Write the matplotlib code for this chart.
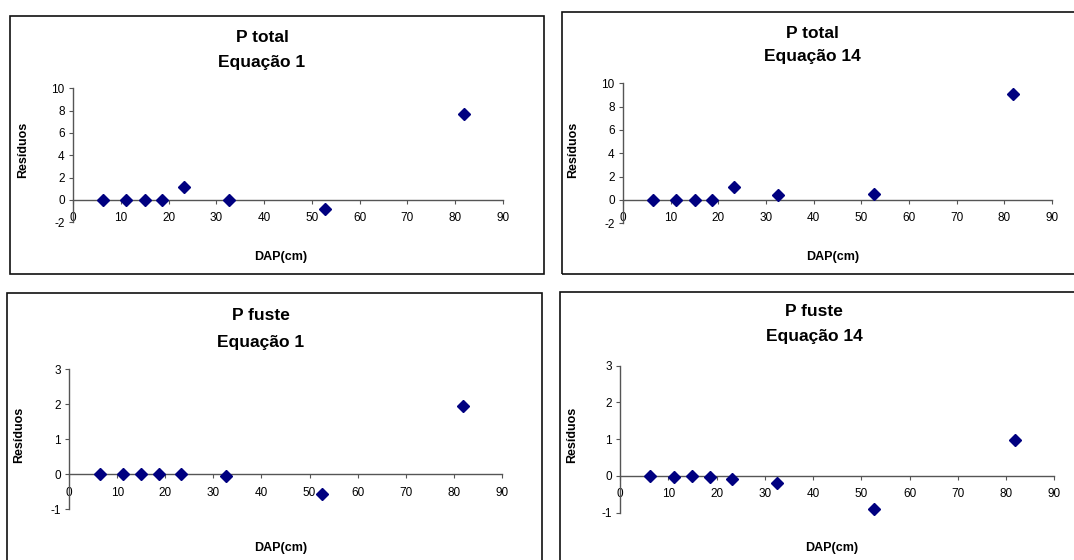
import matplotlib
matplotlib.use('Agg')
import matplotlib.pyplot as plt
from matplotlib.patches import Rectangle

plt.rcParams['font.family'] = ['Liberation Sans', 'DejaVu Sans']
plt.rcParams['axes.unicode_minus'] = False

W, H = 1074, 560

# DAP (cm) of the sampled trees, shared by all panels
dap = [6.3, 11.1, 15.0, 18.6, 23.3, 32.6, 52.7, 81.9]

res_total_eq1 = [0, 0, 0, 0, 1.2, 0, -0.85, 7.7]
res_total_eq14 = [0, 0, 0, 0, 1.1, 0.45, 0.55, 9.1]
res_fuste_eq1 = [0, 0, 0, 0, 0, -0.05, -0.55, 1.95]
res_fuste_eq14 = [0, -0.03, 0, -0.03, -0.09, -0.18, -0.9, 0.98]

titles = ['P total', 'P total', 'P fuste', 'P fuste']
subtitles = ['Equação 1', 'Equação 14', 'Equação 1', 'Equação 14']
ylims = [(-2, 10), (-2, 10), (-1, 3), (-1, 3)]
ysteps = [2, 2, 1, 1]

# layout in pixels: frame (x0, y0, x1, y1), axes (left, top, right, bottom),
# title x, title y, subtitle y, xlabel (x, y), ylabel (x, y)
panels = [
    dict(frame=(10, 16, 543.5, 274.5), ax=(73, 88.3, 503, 222.3),
         tx=262, ty=37, sty=63, xl=(281, 257), yl=(23, 150)),
    dict(frame=(561.5, 12, 1080, 274.5), ax=(623, 83.3, 1052, 223.3),
         tx=812, ty=33, sty=57, xl=(833, 257), yl=(573, 150)),
    dict(frame=(7, 292.5, 541.5, 570), ax=(69.3, 369.3, 501.7, 509.3),
         tx=261, ty=315, sty=342, xl=(281, 548), yl=(19, 435)),
    dict(frame=(560, 291.5, 1080, 570), ax=(620, 365.7, 1054.3, 512.7),
         tx=814, ty=312, sty=337, xl=(832, 548), yl=(572, 435)),
]


def fx(px):
    return px / W


def fy(py):
    return 1 - py / H


fig = plt.figure(figsize=(W / 100, H / 100), dpi=100)

series = [res_total_eq1, res_total_eq14, res_fuste_eq1, res_fuste_eq14]

for i, p in enumerate(panels):
    x0, y0, x1, y1 = p['frame']
    fig.patches.append(Rectangle((fx(x0), fy(y1)), fx(x1 - x0), (y1 - y0) / H,
                                 transform=fig.transFigure, fill=False,
                                 edgecolor='#111111', linewidth=1.2))

    l, t, r, b = p['ax']
    ax = fig.add_axes([fx(l), fy(b), fx(r - l), (b - t) / H])
    ax.plot(dap, series[i], linestyle='none', marker='D', markersize=6.2,
            color='#000080', clip_on=False, zorder=5)

    ymin, ymax = ylims[i]
    ax.set_xlim(0, 90)
    ax.set_ylim(ymin, ymax)
    ax.set_xticks(range(0, 91, 10))
    ax.set_yticks(range(ymin, ymax + 1, ysteps[i]))

    ax.spines['top'].set_visible(False)
    ax.spines['right'].set_visible(False)
    ax.spines['bottom'].set_position(('data', 0))
    for s in ('left', 'bottom'):
        ax.spines[s].set_color('#555555')
        ax.spines[s].set_linewidth(1)
    ax.tick_params(direction='out', length=3, width=0.8, color='#555555',
                   labelsize=8.5)
    ax.tick_params(axis='x', pad=6)
    ax.tick_params(axis='y', pad=3)
    ax.patch.set_alpha(0)

    fig.text(fx(p['tx']), fy(p['ty']), titles[i], ha='center', va='center',
             fontsize=12.5, fontweight='bold')
    fig.text(fx(p['tx']), fy(p['sty']), subtitles[i], ha='center', va='center',
             fontsize=12.5, fontweight='bold')
    fig.text(fx(p['xl'][0]), fy(p['xl'][1]), 'DAP(cm)', ha='center',
             va='center', fontsize=9, fontweight='bold')
    fig.text(fx(p['yl'][0]), fy(p['yl'][1]), 'Resíduos', ha='center',
             va='center', fontsize=9, fontweight='bold', rotation=90)

fig.savefig('out.png', dpi=100)
